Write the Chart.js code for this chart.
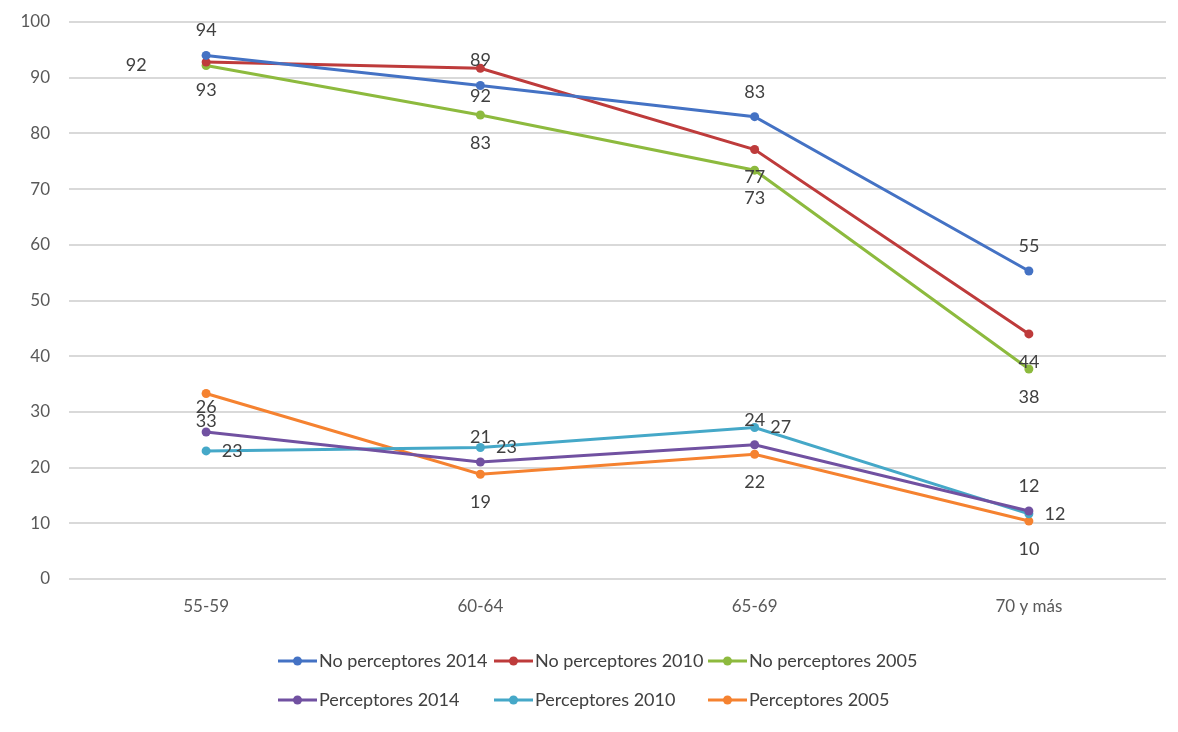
<!DOCTYPE html>
<html>
<head>
<meta charset="utf-8">
<script src="https://cdn.jsdelivr.net/npm/chart.js@4"></script>
<style>
  html, body { margin: 0; padding: 0; background: #fff; }
  #wrap { width: 1178px; height: 732px; position: relative; }
</style>
</head>
<body>
<div id="wrap"><canvas id="chart"></canvas></div>
<script>
// Age groups
const categories = ["55-59", "60-64", "65-69", "70 y más"];

// Series values (%)
const noPerceptores2014 = [94.0, 88.6, 83.0, 55.3];
const noPerceptores2010 = [92.8, 91.7, 77.1, 44.0];
const noPerceptores2005 = [92.2, 83.3, 73.4, 37.7];
const perceptores2014 = [26.4, 21.0, 24.1, 12.2];
const perceptores2010 = [23.0, 23.6, 27.2, 11.7];
const perceptores2005 = [33.3, 18.8, 22.4, 10.4];

// Data labels as printed in the original (they don't always sit on their own point)
const labels2014No = ["94", "89", "83", "55"];
const labels2010No = ["93", "92", "77", "44"];
const labels2005No = ["92", "83", "73", "38"];
const labels2014 = ["26", "21", "24", "12"];
const labels2010 = ["23", "23", "27", "12"];
const labels2005 = ["33", "19", "22", "10"];

const yTicks = [0, 10, 20, 30, 40, 50, 60, 70, 80, 90, 100];

const FONT = "Lato, 'Open Sans', sans-serif";

function series(label, data, color, texts, pos) {
  return {
    label: label,
    data: data,
    borderColor: color,
    backgroundColor: color,
    borderWidth: 3,
    pointRadius: 4.5,
    pointHoverRadius: 4.5,
    pointBorderWidth: 0,
    tension: 0,
    dlTexts: texts,
    dlPos: pos
  };
}

const datasets = [
  series("No perceptores 2014", noPerceptores2014, "#4472C4", labels2014No, ["top", "top", "top", "top"]),
  series("No perceptores 2010", noPerceptores2010, "#BE3B3B", labels2010No, ["bottom", "bottom", "bottom", "bottom"]),
  series("No perceptores 2005", noPerceptores2005, "#8DBA3E", labels2005No, ["left", "bottom", "bottom", "bottom"]),
  series("Perceptores 2014", perceptores2014, "#7151A1", labels2014, ["top", "top", "top", "top"]),
  series("Perceptores 2010", perceptores2010, "#45A8C8", labels2010, ["right", "right", "right", "right"]),
  series("Perceptores 2005", perceptores2005, "#F58230", labels2005, ["bottom", "bottom", "bottom", "bottom"])
];

// Draw the value labels next to points
const dataLabels = {
  id: "dataLabels",
  afterDatasetsDraw(chart) {
    const ctx = chart.ctx;
    ctx.save();
    ctx.font = "18px " + FONT;
    ctx.fillStyle = "#404040";
    ctx.textAlign = "center";
    ctx.textBaseline = "middle";
    chart.data.datasets.forEach((ds, i) => {
      const meta = chart.getDatasetMeta(i);
      meta.data.forEach((pt, j) => {
        let x = pt.x, y = pt.y;
        const p = ds.dlPos[j];
        if (p === "top") y -= 25;
        else if (p === "bottom") y += 28;
        else if (p === "left") x -= 70;
        else if (p === "right") x += 26;
        ctx.fillText(ds.dlTexts[j], x, y);
      });
    });
    ctx.restore();
  }
};

// Legend in a 3-column grid, two rows
const gridLegend = {
  id: "gridLegend",
  afterDraw(chart) {
    const ctx = chart.ctx;
    const cols = [278, 494, 708];
    const rows = [661, 700];
    ctx.save();
    ctx.font = "18px " + FONT;
    ctx.textBaseline = "middle";
    ctx.textAlign = "left";
    chart.data.datasets.forEach((ds, i) => {
      const x = cols[i % 3];
      const y = rows[Math.floor(i / 3)];
      ctx.strokeStyle = ds.borderColor;
      ctx.lineWidth = 3;
      ctx.beginPath();
      ctx.moveTo(x, y);
      ctx.lineTo(x + 39, y);
      ctx.stroke();
      ctx.fillStyle = ds.borderColor;
      ctx.beginPath();
      ctx.arc(x + 19.5, y, 4.5, 0, Math.PI * 2);
      ctx.fill();
      ctx.fillStyle = "#404040";
      ctx.fillText(ds.label, x + 41, y);
    });
    ctx.restore();
  }
};

new Chart(document.getElementById("chart"), {
  type: "line",
  data: { labels: categories, datasets: datasets },
  plugins: [dataLabels, gridLegend],
  options: {
    responsive: true,
    maintainAspectRatio: false,
    animation: false,
    layout: { padding: { top: 22, right: 12, bottom: 113, left: 0 } },
    plugins: {
      legend: { display: false },
      tooltip: { enabled: false }
    },
    scales: {
      x: {
        offset: true,
        grid: { display: false, drawTicks: false },
        border: { display: false },
        ticks: { color: "#595959", font: { family: FONT, size: 17 }, padding: 17 },
        afterFit(scale) { scale.height = 40; }
      },
      y: {
        min: 0,
        max: 100,
        afterBuildTicks(scale) { scale.ticks = yTicks.map(v => ({ value: v })); },
        grid: { color: "#D9D9D9", lineWidth: 2, drawTicks: false },
        border: { display: false },
        ticks: { color: "#595959", font: { family: FONT, size: 17 }, padding: 19 },
        afterFit(scale) { scale.width = 69; scale.paddingTop = 0; }
      }
    }
  }
});
</script>
</body>
</html>
